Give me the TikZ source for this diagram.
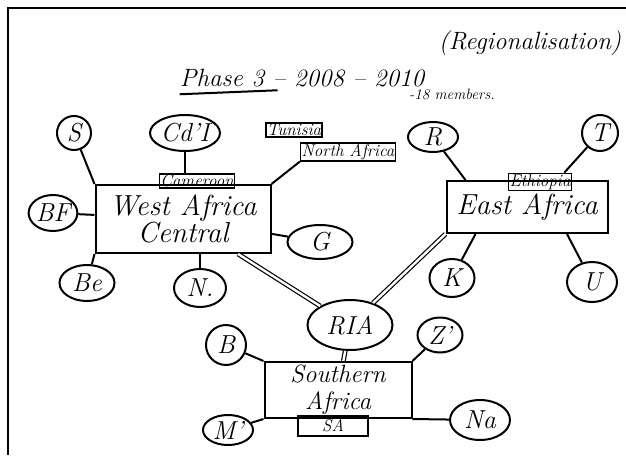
\documentclass[tikz,border=0pt]{standalone}
\usepackage{tikz}
\usetikzlibrary{positioning}
\usetikzlibrary{shapes.geometric}

\begin{document}
\begin{tikzpicture}[x=1pt,y=-1pt,-,line width=2pt,
                country/.style={ellipse,draw,inner sep=0pt,font=\fontsize{26}{26}\selectfont\itshape},
                region/.style={rectangle,draw,align=center,inner sep=2pt,
                  font=\fontsize{29}{26}\selectfont\itshape},
                tag/.style={rectangle,draw,inner sep=1pt,line width=1.5pt,
                  font=\fontsize{17}{17}\selectfont\itshape},
                link/.style={double,double distance=2.4pt,line width=1.2pt}]

  \useasboundingbox (0,0) rectangle (626,455);
  \draw (8,455) -- (8,8) -- (626,8);

  % heading
  \node[font=\fontsize{25}{26}\selectfont\itshape] (regio) at (530,43) {(Regionalisation)};
  \node[font=\fontsize{25}{28}\selectfont\itshape] (phase) at (302,78) {Phase 3 -- 2008 -- 2010};
  \node[font=\fontsize{15}{16}\selectfont\itshape] (members) at (452,94) {-18 members.};
  \draw ([xshift=4pt,yshift=-3pt]phase.south west) -- ++(98,-4);

  % West Africa Central
  \node[region, minimum width=175, minimum height=68] (wac) at (183,219) {West Africa\\Central};
  \node[tag] (cam) at (197,181) {Cameroon};
  \node[country, minimum width=34, minimum height=34] (S) at (74,133) {S};
  \node[country, minimum width=70, minimum height=36] (CdI) at (185,133) {Cd'I};
  \node[tag] (tun) at (294,130) {Tunisia};
  \node[tag] (na) at (348,152) {North Africa};
  \node[country, minimum width=48, minimum height=36] (BF) at (53,213) {BF};
  \node[country, minimum width=55, minimum height=36] (Be) at (87,283) {Be};
  \node[country, minimum width=52, minimum height=38] (N) at (200,288) {N.};
  \node[country, minimum width=65, minimum height=34] (G) at (320,242) {G};

  % East Africa
  \node[region, minimum width=161, minimum height=52] (ea) at (527,207) {East Africa};
  \node[tag] (eth) at (540,182) {Ethiopia};
  \node[country, minimum width=50, minimum height=30] (R) at (433,137) {R};
  \node[country, minimum width=36, minimum height=36] (T) at (600,133) {T};
  \node[country, minimum width=45, minimum height=38] (K) at (452,278) {K};
  \node[country, minimum width=50, minimum height=40] (U) at (592,282) {U};

  \node[country, minimum width=85, minimum height=50] (ria) at (350,325) {RIA};

  % Southern Africa
  \node[region, minimum width=147, minimum height=56, inner sep=0pt,
        font=\fontsize{25}{27}\selectfont\itshape] (sa) at (338,390) {Southern\\Africa};
  \node[tag, minimum width=70, minimum height=20] (SAt) at (333,426) {SA};
  \node[country, minimum width=40, minimum height=40] (B) at (226,345) {B};
  \node[country, minimum width=45, minimum height=35] (Z) at (440,335) {Z'};
  \node[country, minimum width=50, minimum height=30] (M) at (228,430) {M'};
  \node[country, minimum width=60, minimum height=40] (Na) at (480,420) {Na};

  \path
    (S) edge (wac.north west)
    (CdI.south) edge (CdI.south |- cam.north)
    (na.south west) edge (wac.north east)
    (BF) edge (wac)
    (Be) edge (wac.south west)
    (N) edge (N |- wac.south)
    (G) edge (wac)
    (R) edge ([xshift=20pt]ea.north west)
    (T) edge ([xshift=-8pt]eth.north east)
    (K) edge ([xshift=30pt]ea.south west)
    (U) edge ([xshift=40pt]ea.south)
    (B) edge (sa.north west)
    (Z) edge (sa.north east)
    (M) edge (sa.south west)
    (Na) edge (sa.south east);

  \path
    (wac) edge [link] (ria)
    (ea.south west) edge [link] (ria)
    (ria) edge [link] (sa);
\end{tikzpicture}
\end{document}
